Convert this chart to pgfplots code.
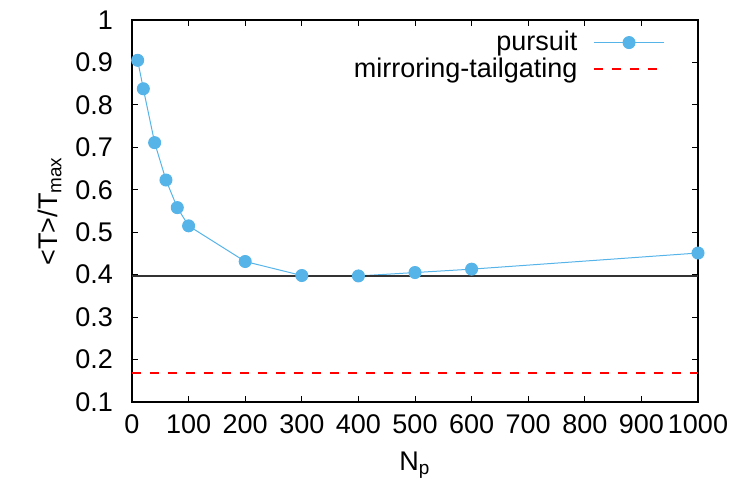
\documentclass[border=0pt]{standalone}
\usepackage{fontspec}
\setmainfont{Liberation Sans}
\usepackage{pgfplots}
\pgfplotsset{compat=1.18}
\definecolor{gpblue}{HTML}{56B4E9}

\begin{document}
\begin{tikzpicture}[font=\fontsize{13.5}{15.5}\selectfont]
\useasboundingbox (-66pt,-42pt) rectangle (300.5pt,201pt);
\begin{axis}[
    at={(0,0)}, anchor=south west,
    scale only axis,
    width=283pt, height=191pt,
    xmin=0, xmax=1000,
    ymin=0.1, ymax=1,
    xtick={0,100,...,1000},
    ytick={0.1,0.2,...,1.0},
    yticklabels={0.1,0.2,0.3,0.4,0.5,0.6,0.7,0.8,0.9,1},
    /pgf/number format/assume math mode=true,
    /pgf/number format/1000 sep={},
    tick align=inside,
    major tick length=3pt,
    tick style={black, line width=0.5pt},
    axis line style={line width=0.6pt},
    xticklabel style={yshift=-3pt},
    yticklabel style={xshift=-6pt},
    xlabel={N\textsubscript{p}},
    ylabel={<T>/T\textsubscript{max}},
    xlabel style={yshift=-2pt},
    ylabel style={yshift=0pt},
    legend cell align=right,
    legend plot pos=right,
    legend style={draw=none, fill=none, at={(0.942,0.982)}, anchor=north east,
      row sep=-2pt, inner sep=0pt,
      /tikz/every odd column/.append style={column sep=6pt}},
    legend image code/.code={%
      \draw[mark repeat=2,mark phase=2,#1] plot coordinates {(0pt,0pt)(17.5pt,0pt)(35pt,0pt)};},
]
\addplot[color=gpblue, line width=0.5pt, mark=*, mark size=3pt, mark options={fill=gpblue, draw=gpblue}]
coordinates {
    (10,0.905) (20,0.838) (40,0.711) (60,0.623) (80,0.558) (100,0.515)
    (200,0.431) (300,0.398) (400,0.397) (500,0.405) (600,0.413) (1000,0.451)
};
\addlegendentry{pursuit}
\addplot[color=red, draw=red, line width=0.7pt, dash pattern=on 4.5pt off 4.5pt]
coordinates {(0,0.1686) (1000,0.1686)};
\addlegendentry{mirroring-tailgating}
\addplot[black!80, line width=0.6pt, forget plot]
coordinates {(0,0.397) (1000,0.397)};
\end{axis}
\end{tikzpicture}
\end{document}
